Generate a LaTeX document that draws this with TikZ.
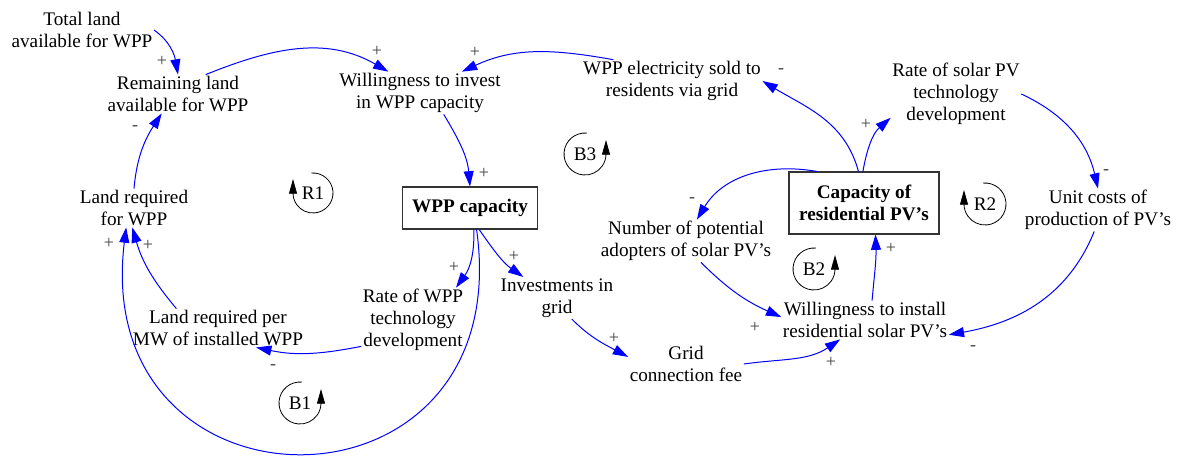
\documentclass[tikz,border=0pt]{standalone}
\usepackage{fontspec}
\setmainfont{Liberation Serif}
\usetikzlibrary{arrows.meta}

\begin{document}
\begin{tikzpicture}[x=0.75pt,y=0.75pt,>={Triangle[length=11.5pt,width=7.5pt]},
    var/.style={align=center,inner sep=1pt,font=\fontsize{14.4}{16.5}\selectfont},
    stock/.style={var,draw=black!80,line width=0.8pt,font=\fontsize{14.4}{16.5}\selectfont\bfseries},
    link/.style={->,blue,line width=0.75pt},
    sign/.style={inner sep=0pt,text=black!75,font=\fontsize{13.5}{13.5}\selectfont},
    loopline/.style={-{Triangle[length=11pt,width=6pt]},black,line width=0.6pt}]
    \useasboundingbox (0,0) rectangle (1181,-457);

    % variables
    \node[var] (total) at (82,-30) {Total land\\available for WPP};
    \node[var] (remain) at (178,-94) {Remaining land\\available for WPP};
    \node[var] (willing) at (420,-93) {Willingness to invest\\in WPP capacity};
    \node[var] (sold) at (672,-81) {WPP electricity sold to\\residents via grid};
    \node[var] (ratepv) at (956,-94) {Rate of solar PV\\technology\\development};
    \node[stock,minimum width=101pt,minimum height=31.5pt] (wppcap) at (470,-208) {WPP capacity};
    \node[stock,minimum width=112.5pt,minimum height=46.5pt] (pvcap) at (864,-203) {Capacity of\\residential PV's};
    \node[var] (landreq) at (134,-208) {Land required\\for WPP};
    \node[var] (unitcost) at (1098,-210) {Unit costs of\\production of PV's};
    \node[var] (adopters) at (686,-241) {Number of potential\\adopters of solar PV's};
    \node[var] (ratewpp) at (413,-320) {Rate of WPP\\technology\\development};
    \node[var] (invgrid) at (557,-298) {Investments in\\grid};
    \node[var] (landmw) at (218,-328) {Land required per\\MW of installed WPP};
    \node[var] (install) at (865,-320) {Willingness to install\\residential solar PV's};
    \node[var] (fee) at (686,-364) {Grid\\connection fee};

    % causal links
    \path[link]
        (total.east) edge [out=-35, in=100] (remain.north)
        (remain.35) edge [out=22, in=150] (willing.146)
        (landreq.north) edge [out=85, in=-123] (remain.230)
        (sold.160) edge [out=170, in=25] (willing.27)
        (willing.-42) edge [out=-59, in=95] (wppcap.north)
        (pvcap.100) edge [out=105, in=-31] (sold.east)
        (pvcap.92) edge [out=80, in=-139] (ratepv.200)
        (ratepv.east) edge [out=-25, in=103] (unitcost.north)
        (pvcap.146) edge [out=170, in=59] (adopters.63)
        (adopters.-55) edge [out=-45, in=156] (install.178)
        (install.70) edge [out=85, in=-88] (pvcap.-70)
        (unitcost.-100) edge [out=-112, in=10] (install.-10)
        (fee.east) edge [out=8, in=-146] (install.218)
        (invgrid.-55) edge [out=-45, in=152] (fee.173)
        (wppcap.-67) edge [out=-55, in=145] (invgrid.148)
        (wppcap.-80) edge [out=-88, in=54] (ratewpp.37)
        (ratewpp.207) edge [out=-169, in=-12] (landmw.-27)
        (landmw.155) edge [out=130, in=-74] (landreq.-95)
        (wppcap.-73) edge [out=-82, in=-97, looseness=2.2] (landreq.-112)
        ;

    % polarities
    \node[sign] (s1) at (162,-61) {+};
    \node[sign] (s2) at (377,-51) {+};
    \node[sign] (s3) at (135,-128) {-};
    \node[sign] (s4) at (475,-52) {+};
    \node[sign] (s5) at (484,-173) {+};
    \node[sign] (s6) at (781,-71) {-};
    \node[sign] (s7) at (866,-124) {+};
    \node[sign] (s8) at (1106,-172) {-};
    \node[sign] (s9) at (692,-200) {-};
    \node[sign] (s10) at (755,-327) {+};
    \node[sign] (s11) at (891,-248) {+};
    \node[sign] (s12) at (973,-348) {-};
    \node[sign] (s13) at (831,-362) {+};
    \node[sign] (s14) at (614,-338) {+};
    \node[sign] (s15) at (514,-256) {+};
    \node[sign] (s16) at (454,-267) {+};
    \node[sign] (s17) at (273,-367) {-};
    \node[sign] (s18) at (148,-245) {+};
    \node[sign] (s19) at (109,-243) {+};

    % loop markers
    \node[var] (R1) at (313,-193) {R1};
    \node[var] (R2) at (985,-204) {R2};
    \node[var] (B1) at (300,-403) {B1};
    \node[var] (B2) at (814,-269) {B2};
    \node[var] (B3) at (585,-154) {B3};
    \draw[loopline] (R1.center) ++(95:20) arc[start angle=95, end angle=-180, radius=20] -- ++(0,14);
    \draw[loopline] (R2.center) ++(95:21) arc[start angle=95, end angle=-180, radius=21] -- ++(0,14);
    \draw[loopline] (B1.center) ++(85:21) arc[start angle=85, end angle=360, radius=21] -- ++(0,14);
    \draw[loopline] (B2.center) ++(85:21) arc[start angle=85, end angle=360, radius=21] -- ++(0,14);
    \draw[loopline] (B3.center) ++(85:21) arc[start angle=85, end angle=360, radius=21] -- ++(0,14);
\end{tikzpicture}
\end{document}
